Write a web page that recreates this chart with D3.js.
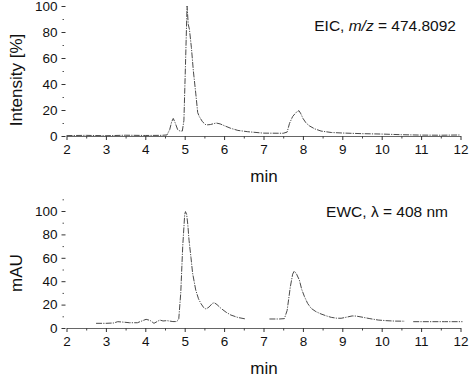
<!DOCTYPE html>
<html>
<head>
<meta charset="utf-8">
<script src="https://cdn.jsdelivr.net/npm/d3@7"></script>
<style>
  html, body { margin: 0; padding: 0; background: #fff; }
  svg { display: block; font-family: "Liberation Sans", Arial, sans-serif; }
</style>
</head>
<body>
<svg id="chart" width="474" height="389"></svg>
<script>
// ---- Data ----
const xTicks = [2, 3, 4, 5, 6, 7, 8, 9, 10, 11, 12];
const yTicksTop = [0, 20, 40, 60, 80, 100];
const yTicksBottom = [0, 20, 40, 60, 80, 100];

// EIC, m/z = 474.8092 (time in min, intensity in %)
const eicTime = [2.0, 2.5, 3.0, 3.5, 4.0, 4.4, 4.55, 4.62, 4.67, 4.71, 4.76, 4.82, 4.88, 4.94, 4.98, 5.02, 5.06, 5.09, 5.12, 5.17, 5.22, 5.28, 5.33, 5.37, 5.45, 5.54, 5.65, 5.8, 5.9, 6.0, 6.17, 6.35, 6.6, 7.0, 7.5, 7.6, 7.66, 7.74, 7.83, 7.9, 7.95, 8.0, 8.08, 8.17, 8.3, 8.46, 8.72, 9.0, 9.5, 10.0, 10.5, 11.0, 11.5, 12.0];
const eicValue = [0.3, 0.5, 0.2, 0.6, 0.4, 0.5, 0.8, 5, 11, 13.5, 10, 5, 3.8, 3.8, 12, 55, 100, 86, 82, 68, 50, 33, 18, 15, 11, 8.5, 8.8, 10, 9.3, 8, 5.9, 4.3, 3.3, 2.2, 2.1, 3, 9.7, 15, 18.2, 19.5, 17, 13.6, 10, 7.7, 5.5, 3.8, 2.7, 2.3, 1.8, 1.5, 1, 0.7, 0.6, 0.8];

// EWC, lambda = 408 nm (time in min, absorbance in mAU); null = gap in trace
const ewcTime = [2.75, 3.0, 3.2, 3.3, 3.45, 3.6, 3.8, 3.95, 4.02, 4.12, 4.22, 4.3, 4.37, 4.45, 4.55, 4.7, 4.8, 4.85, 4.9, 4.95, 5.0, 5.02, 5.05, 5.08, 5.11, 5.16, 5.2, 5.28, 5.35, 5.41, 5.48, 5.54, 5.62, 5.7, 5.75, 5.82, 5.92, 6.05, 6.17, 6.35, 6.55, 6.8, 7.15, 7.4, 7.53, 7.6, 7.68, 7.74, 7.78, 7.84, 7.91, 7.97, 8.04, 8.12, 8.21, 8.33, 8.46, 8.6, 8.72, 8.85, 8.97, 9.1, 9.25, 9.35, 9.5, 9.7, 9.91, 10.1, 10.34, 10.59, 10.7, 10.8, 11.2, 11.6, 12.05];
const ewcValue = [4, 4, 4.3, 5.4, 5, 4.5, 4.5, 6.5, 7.4, 6.5, 4, 5.5, 6.8, 6, 6.3, 5.5, 5.5, 8, 30, 70, 97, 99.5, 97, 88, 75, 60, 47, 32.5, 25, 21, 17.5, 16.2, 18, 21, 21.6, 20, 16.8, 13.5, 11.1, 9, 7.7, null, 7.7, 7.7, 8, 15, 35, 46, 48.7, 46, 41, 33, 26.8, 21, 16.8, 14, 12, 10.3, 9.1, 8.4, 8.3, 9.2, 10.3, 10.2, 9.3, 8, 6.8, 6.3, 5.9, 5.8, null, 5.4, 5.4, 5.4, 5.4];

const panels = [
  { time: eicTime, value: eicValue, yTicks: yTicksTop, yMinor: [10, 30, 50, 70, 90],
    yRange: [136, 6], yLabel: "Intensity [%]", yLabelY: 80, axisY: 136, xLabelY: 182, annY: 31,
    ann: [["EIC, ", "normal"], ["m/z", "italic"], [" = 474.8092", "normal"]], annX: 456 },
  { time: ewcTime, value: ewcValue, yTicks: yTicksBottom, yMinor: [10, 30, 50, 70, 90, 110],
    yRange: [328, 211], yLabel: "mAU", yLabelY: 273, axisY: 328, xLabelY: 374, annY: 217,
    ann: [["EWC, \u03bb = 408 nm", "normal"]], annX: 448 }
];

const svg = d3.select("#chart");
const x = d3.scaleLinear().domain([2, 12]).range([66.5, 460.5]);
const xMinor = d3.range(2.5, 12, 1);

panels.forEach(p => {
  const y = d3.scaleLinear().domain([0, 100]).range(p.yRange);
  const g = svg.append("g");

  // x axis
  const xAxis = d3.axisBottom(x).tickValues(xTicks).tickFormat(d3.format("d")).tickSizeInner(4).tickSizeOuter(0).tickPadding(4);
  const gx = g.append("g").attr("transform", `translate(0,${p.axisY})`).call(xAxis);
  gx.select(".domain").attr("stroke", "#666").attr("stroke-width", 1);
  gx.selectAll(".tick line").attr("stroke", "#333");
  gx.selectAll(".tick text").attr("font-size", 13.5).attr("fill", "#111");
  const gxm = g.append("g").attr("transform", `translate(0,${p.axisY})`)
    .call(d3.axisBottom(x).tickValues(xMinor).tickSize(2.5).tickFormat(""));
  gxm.select(".domain").remove();
  gxm.selectAll(".tick line").attr("stroke", "#444");

  // y axis (ticks only, no line)
  const gy = g.append("g").attr("transform", `translate(65.5,0)`)
    .call(d3.axisLeft(y).tickValues(p.yTicks).tickSizeInner(4).tickSizeOuter(0).tickPadding(4));
  gy.select(".domain").remove();
  gy.selectAll(".tick line").attr("stroke", "#333");
  gy.selectAll(".tick text").attr("font-size", 13.5).attr("fill", "#111");
  const gym = g.append("g").attr("transform", `translate(64,0)`)
    .call(d3.axisLeft(y).tickValues(p.yMinor).tickSize(1.5).tickFormat(""));
  gym.select(".domain").remove();
  gym.selectAll(".tick line").attr("stroke", "#555");

  // trace
  const pts = p.time.map((t, i) => ({ t, v: p.value[i] }));
  const line = d3.line().defined(d => d.v !== null).x(d => x(d.t)).y(d => y(d.v));
  g.append("path").datum(pts).attr("d", line)
    .attr("fill", "none").attr("stroke", "#4a4a4a").attr("stroke-width", 1)
    .attr("stroke-dasharray", "6,1.2,1.2,1.2");

  // labels
  g.append("text").attr("transform", `translate(22,${p.yLabelY}) rotate(-90)`)
    .attr("text-anchor", "middle").attr("font-size", 17).attr("fill", "#111").text(p.yLabel);
  g.append("text").attr("x", 264).attr("y", p.xLabelY)
    .attr("text-anchor", "middle").attr("font-size", 17).attr("fill", "#111").text("min");
  const ann = g.append("text").attr("x", p.annX).attr("y", p.annY)
    .attr("text-anchor", "end").attr("font-size", 15.5).attr("fill", "#111");
  p.ann.forEach(([s, st]) => ann.append("tspan").attr("font-style", st).text(s));
});
</script>
</body>
</html>
